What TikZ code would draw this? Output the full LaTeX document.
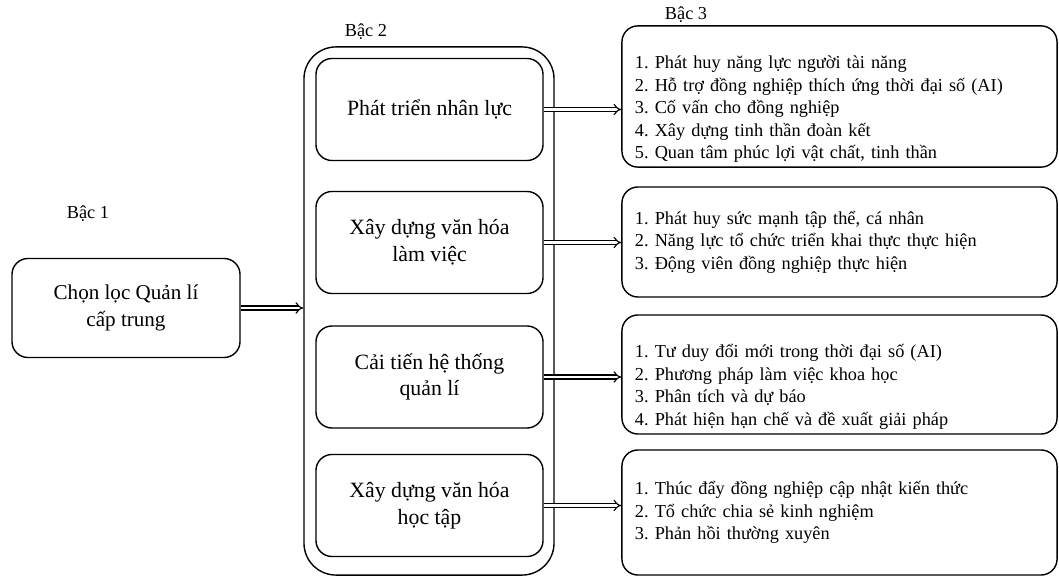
\documentclass[tikz,border=0pt]{standalone}
\usepackage{fontspec}
\setmainfont{Liberation Serif}
\usetikzlibrary{arrows.meta}
\frenchspacing
\newcommand{\topgap}{\rule{0pt}{27pt}}

\begin{document}
\begin{tikzpicture}[x=0.025cm, y=-0.025cm,
  lvl/.style={draw, line width=1pt, rounded corners=0.4cm, minimum width=5.675cm, minimum height=2.55cm, align=center, font=\fontsize{15.5}{19}\selectfont},
  group/.style={draw, line width=1pt, rounded corners=0.8cm, minimum width=6.25cm, minimum height=13.2cm},
  item/.style={draw, line width=1pt, rounded corners=0.4cm, align=left, text width=10.225cm, inner xsep=0.325cm, font=\fontsize{13}{16}\selectfont},
  link/.style={double, double distance=2pt, line width=0.8pt, -{Implies}},
  tag/.style={font=\fontsize{13}{16}\selectfont}
]
  \useasboundingbox (0,0) rectangle (1059,576);

  % Level labels
  \node[tag] (t1) at (88, 214) {Bậc 1};
  \node[tag] (t2) at (366, 32) {Bậc 2};
  \node[tag] (t3) at (686, 15) {Bậc 3};

  % Level 1
  \node[lvl, minimum width=5.7cm, minimum height=2.475cm, font=\fontsize{15}{19}\selectfont] (chon) at (126, 308) {Chọn lọc Quản lí\\cấp trung};

  % Level 2
  \node[group] (bac2) at (429, 311) {};
  \node[lvl] (b2a) at (429.5, 109.5) {Phát triển nhân lực};
  \node[lvl] (b2b) at (429.5, 242.5) {Xây dựng văn hóa\\làm việc};
  \node[lvl] (b2c) at (429.5, 377) {Cải tiến hệ thống\\quản lí};
  \node[lvl] (b2d) at (429.5, 505.5) {Xây dựng văn hóa\\học tập};

  % Level 3
  \node[item, minimum height=3.225cm] (b3a) at (839.5, 96.5) {\topgap 1. Phát huy năng lực người tài năng\\2. Hỗ trợ đồng nghiệp thích ứng thời đại số (AI)\\3. Cố vấn cho đồng nghiệp\\4. Xây dựng tinh thần đoàn kết\\5. Quan tâm phúc lợi vật chất, tinh thần};
  \node[item, minimum height=2.75cm] (b3b) at (839.5, 242) {1. Phát huy sức mạnh tập thể, cá nhân\\2. Năng lực tổ chức triển khai thực thực hiện\\3. Động viên đồng nghiệp thực hiện};
  \node[item, minimum height=2.975cm] (b3c) at (839.5, 374.5) {\topgap 1. Tư duy đổi mới trong thời đại số (AI)\\2. Phương pháp làm việc khoa học\\3. Phân tích và dự báo\\4. Phát hiện hạn chế và đề xuất giải pháp};
  \node[item, minimum height=3.125cm] (b3d) at (839.5, 512.5) {1. Thúc đẩy đồng nghiệp cập nhật kiến thức\\2. Tổ chức chia sẻ kinh nghiệm\\3. Phản hồi thường xuyên};

  % Arrows
  \draw[link] (chon.east) -- (chon.east -| bac2.west);
  \foreach \s in {a, b, c, d} {
    \draw[link] (b2\s.east) -- (b2\s.east -| b3\s.west);
  }
\end{tikzpicture}
\end{document}
